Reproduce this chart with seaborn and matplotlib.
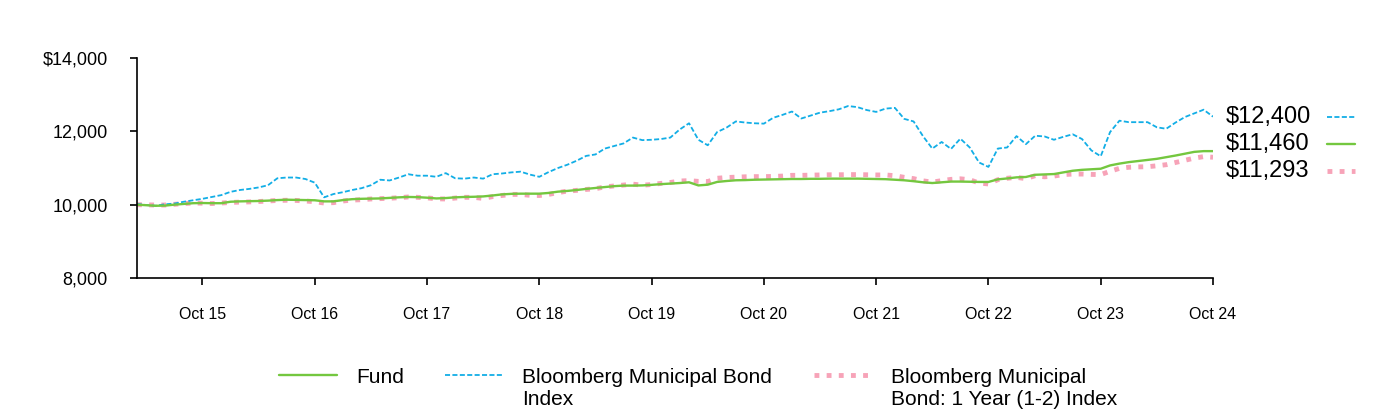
import matplotlib
matplotlib.use("Agg")
import matplotlib.pyplot as plt
import numpy as np
import pandas as pd
import seaborn as sns
from matplotlib.lines import Line2D

# Monthly values, Mar 2015 .. Oct 2024 (growth of $10,000)
months = pd.date_range("2015-03-31", "2024-10-31", freq="ME")

fund = [
    10000, 9985, 9970, 9975, 10000, 10020, 10040, 10045, 10040, 10040,
    10080, 10090, 10095, 10100, 10110, 10125, 10135, 10130, 10125, 10120,
    10090, 10090, 10125, 10150, 10160, 10165, 10170, 10185, 10200, 10210,
    10205, 10190, 10170, 10180, 10200, 10210, 10215, 10225, 10250, 10280,
    10295, 10300, 10300, 10300, 10320, 10355, 10375, 10400, 10430, 10455,
    10480, 10505, 10520, 10520, 10525, 10540, 10560, 10575, 10590, 10610,
    10525, 10545, 10620, 10645, 10665, 10670, 10680, 10685, 10690, 10695,
    10700, 10700, 10705, 10705, 10710, 10710, 10710, 10710, 10705, 10700,
    10695, 10680, 10665, 10640, 10610, 10590, 10610, 10630, 10630, 10625,
    10620, 10620, 10690, 10715, 10745, 10755, 10815, 10825, 10835, 10880,
    10925, 10950, 10965, 10980, 11070, 11120, 11160, 11190, 11220, 11250,
    11295, 11340, 11390, 11440, 11460, 11460,
]

muni = [
    10020, 9990, 9970, 10010, 10030, 10080, 10120, 10160, 10210, 10260,
    10350, 10400, 10430, 10470, 10530, 10720, 10740, 10740, 10700, 10600,
    10200, 10290, 10340, 10400, 10450, 10530, 10680, 10660, 10740, 10830,
    10790, 10790, 10760, 10860, 10720, 10710, 10740, 10710, 10830, 10850,
    10880, 10900, 10820, 10760, 10890, 11000, 11090, 11200, 11330, 11370,
    11530, 11600, 11670, 11830, 11760, 11770, 11790, 11830, 12050, 12220,
    11770, 11620, 11980, 12100, 12270, 12240, 12220, 12210, 12370, 12450,
    12540, 12350, 12430, 12510, 12550, 12600, 12690, 12660, 12580, 12530,
    12620, 12640, 12340, 12270, 11870, 11530, 11710, 11520, 11800, 11560,
    11150, 11030, 11530, 11560, 11870, 11650, 11880, 11860, 11770, 11850,
    11920, 11790, 11480, 11320, 11980, 12290, 12250, 12250, 12250, 12110,
    12070, 12240, 12390, 12490, 12590, 12400,
]

muni_short = [
    10000, 9995, 9990, 9990, 10010, 10030, 10045, 10040, 10030, 10045,
    10060, 10070, 10075, 10085, 10100, 10115, 10120, 10115, 10100, 10080,
    10045, 10055, 10100, 10125, 10135, 10155, 10165, 10175, 10190, 10210,
    10200, 10185, 10160, 10155, 10180, 10200, 10200, 10170, 10220, 10250,
    10280, 10280, 10255, 10250, 10280, 10330, 10370, 10390, 10415, 10435,
    10485, 10510, 10535, 10560, 10530, 10550, 10580, 10605, 10645, 10655,
    10635, 10630, 10720, 10740, 10750, 10760, 10765, 10765, 10770, 10780,
    10800, 10800, 10805, 10810, 10815, 10815, 10820, 10820, 10815, 10810,
    10810, 10790, 10745, 10710, 10650, 10615, 10655, 10690, 10705, 10680,
    10590, 10565, 10680, 10720, 10745, 10710, 10790, 10760, 10780, 10820,
    10835, 10835, 10825, 10820, 10910, 10990, 11020, 11030, 11035, 11060,
    11090, 11150, 11210, 11270, 11310, 11293,
]

series_names = [
    "Fund",
    "Bloomberg Municipal Bond\nIndex",
    "Bloomberg Municipal\nBond: 1 Year (1-2) Index",
]
end_labels = ["$12,400", "$11,460", "$11,293"]

GREEN = "#74c73f"
BLUE = "#12aee6"
PINK = "#f7a3b8"

sns.set_style("ticks")
plt.rcParams["font.family"] = ["Liberation Sans", "DejaVu Sans"]
plt.rcParams["text.color"] = "black"

df = pd.DataFrame({"idx": np.arange(len(months)), "fund": fund,
                   "muni": muni, "short": muni_short})

fig = plt.figure(figsize=(13.96, 4.17), dpi=100)
ax = fig.add_axes([137 / 1396, 1 - 278 / 417, 1076 / 1396, 220 / 417])

pink_style = dict(color=PINK, linewidth=3.5, linestyle=(0, (1, 1.5)))
blue_style = dict(color=BLUE, linewidth=1.3, linestyle=(0, (2.8, 1.3)))
green_style = dict(color=GREEN, linewidth=1.7)

sns.lineplot(data=df, x="idx", y="short", ax=ax, legend=False, **pink_style)
sns.lineplot(data=df, x="idx", y="muni", ax=ax, legend=False, **blue_style)
sns.lineplot(data=df, x="idx", y="fund", ax=ax, legend=False, **green_style)

ax.set_xlim(0, len(months) - 1)
ax.set_ylim(8000, 14000)
ax.set_yticks([8000, 10000, 12000, 14000])
ax.set_yticklabels(["8,000", "10,000", "12,000", "$14,000"])
oct_idx = [i for i, m in enumerate(months) if m.month == 10]
ax.set_xticks(oct_idx)
ax.set_xticklabels([f"Oct {months[i].strftime('%y')}" for i in oct_idx])
ax.set_xlabel("")
ax.set_ylabel("")

sns.despine(ax=ax)
for side in ["left", "bottom"]:
    ax.spines[side].set_color("black")
    ax.spines[side].set_linewidth(1.2)
ax.tick_params(axis="both", direction="out", length=5, width=1.2, color="black",
               labelcolor="black", bottom=True, left=True)
ax.tick_params(axis="x", pad=16, labelsize=11.5)
ax.tick_params(axis="y", pad=16, labelsize=13)

# ending-value labels to the right of the plot, stacked from the top value
styles = [blue_style, green_style, pink_style]
top_val = muni[-1]
for k, (lab, st) in enumerate(zip(end_labels, styles)):
    yv = top_val - k * 745
    ax.text(1.012, yv, lab, transform=ax.get_yaxis_transform(), fontsize=17,
            va="center", ha="left", color="black")
    ax.add_line(Line2D([1.106, 1.132], [yv, yv], transform=ax.get_yaxis_transform(),
                       clip_on=False, **st))

handles = [Line2D([], [], **green_style), Line2D([], [], **blue_style),
           Line2D([], [], **pink_style)]
leg = fig.legend(handles, series_names, loc="upper center", bbox_to_anchor=(0.5, 0.142),
                 ncol=3, frameon=False, fontsize=15, handlelength=2.8,
                 handletextpad=0.9, columnspacing=2.0, borderpad=0)
# align each handle with the first line of its label
box = leg._legend_handle_box
box.align = "top"
for col in box.get_children():
    for entry in col.get_children():
        entry.align = "top"

fig.savefig("out.png", dpi=100)
